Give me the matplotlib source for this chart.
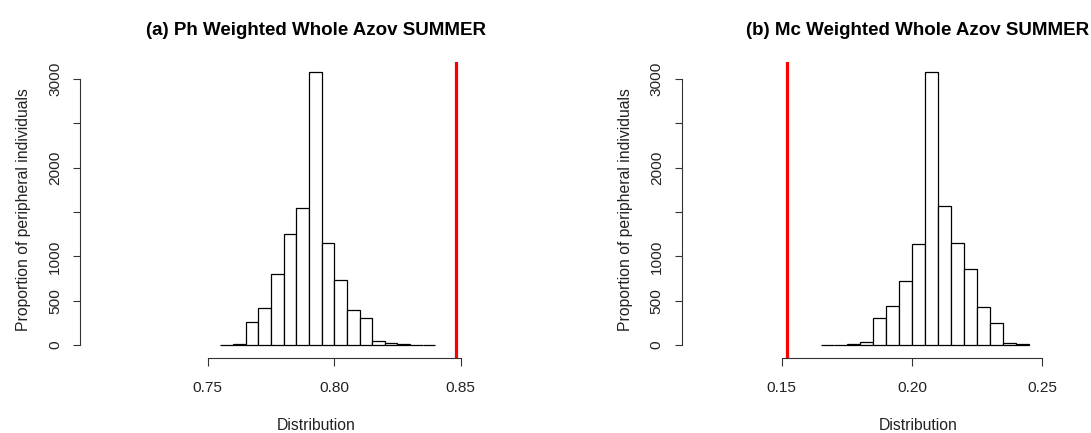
import matplotlib
matplotlib.use("Agg")
import matplotlib.pyplot as plt

plt.rcParams['font.family'] = ['Liberation Sans', 'DejaVu Sans']

# ---- data ----
titles = ["(a) Ph Weighted Whole Azov SUMMER", "(b) Mc Weighted Whole Azov SUMMER"]
xlabel = "Distribution"
ylabel = "Proportion of peripheral individuals"

edges_a = [0.755, 0.760, 0.765, 0.770, 0.775, 0.780, 0.785, 0.790, 0.795,
           0.800, 0.805, 0.810, 0.815, 0.820, 0.825, 0.830, 0.835, 0.840]
counts_a = [5, 15, 263, 421, 800, 1252, 1541, 3074, 1150, 737, 398, 308,
            49, 28, 14, 5, 4]
observed_a = 0.848

edges_b = [0.165, 0.170, 0.175, 0.180, 0.185, 0.190, 0.195, 0.200, 0.205,
           0.210, 0.215, 0.220, 0.225, 0.230, 0.235, 0.240, 0.245]
counts_b = [4, 5, 15, 38, 308, 443, 725, 1142, 3074, 1567, 1153, 860,
            425, 252, 26, 11]
observed_b = 0.152

xticks_a = [0.75, 0.80, 0.85]
xticklabels_a = ["0.75", "0.80", "0.85"]
xticks_b = [0.15, 0.20, 0.25]
xticklabels_b = ["0.15", "0.20", "0.25"]
yticks = [0, 500, 1000, 1500, 2000, 2500, 3000]
yticklabels = ["0", "500", "1000", "", "2000", "", "3000"]

xlim_a = (0.6995, 0.8861)
xlim_b = (0.1116, 0.2929)
ylim = (-146.6, 3191.5)

W, H = 1091, 433
fig = plt.figure(figsize=(W / 100, H / 100), dpi=100)
fig.patch.set_facecolor("white")

def px_axes(left, bottom_px, right, top_px):
    return fig.add_axes([left / W, (H - bottom_px) / H, (right - left) / W, (bottom_px - top_px) / H])

ax_a = px_axes(80, 358, 552, 62)
ax_b = px_axes(681.7, 358, 1154, 62)

panels = [
    (ax_a, edges_a, counts_a, observed_a, xticks_a, xticklabels_a, xlim_a, titles[0]),
    (ax_b, edges_b, counts_b, observed_b, xticks_b, xticklabels_b, xlim_b, titles[1]),
]

for ax, edges, counts, obs, xt, xtl, xl, title in panels:
    widths = [e1 - e0 for e0, e1 in zip(edges[:-1], edges[1:])]
    ax.bar(edges[:-1], counts, width=widths, align="edge",
           facecolor="white", edgecolor="black", linewidth=0.9, zorder=2)
    ax.axvline(obs, color="#ff0000", linewidth=2.3, zorder=3)
    ax.set_xlim(*xl)
    ax.set_ylim(*ylim)
    for s in ("top", "right"):
        ax.spines[s].set_visible(False)
    ax.spines["bottom"].set_bounds(xt[0], xt[-1])
    ax.spines["left"].set_bounds(yticks[0], yticks[-1])
    for s in ("bottom", "left"):
        ax.spines[s].set_linewidth(0.8)
        ax.spines[s].set_color("#333333")
    ax.set_xticks(xt)
    ax.set_xticklabels(xtl)
    ax.set_yticks(yticks)
    ax.set_yticklabels(yticklabels, rotation=90, va="center")
    ax.tick_params(axis="both", direction="out", length=5.4, width=0.8,
                   color="#333333", labelsize=11.1, labelcolor="#222222")
    ax.tick_params(axis="x", pad=11.5)
    ax.tick_params(axis="y", pad=7.5)
    ax.set_xlabel(xlabel, fontsize=11.3, labelpad=16, color="#222222")
    ax.set_ylabel(ylabel, fontsize=11.3, labelpad=12, color="#222222")
    ax.set_title(title, fontsize=13.5, fontweight="bold", pad=19.5)
    ax.patch.set_alpha(0)

fig.savefig("out.png", dpi=100, facecolor="white")
